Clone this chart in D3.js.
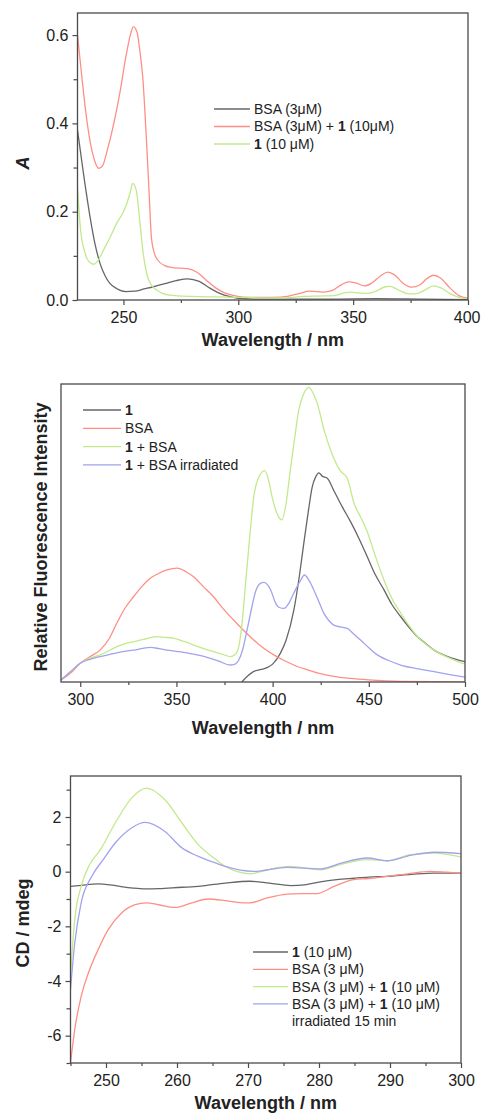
<!DOCTYPE html>
<html>
<head>
<meta charset="utf-8">
<script src="https://cdn.jsdelivr.net/npm/d3@7"></script>
<style>
  body { margin: 0; background: #fff; }
  svg { display: block; font-family: "Liberation Sans", Arial, sans-serif; }
</style>
</head>
<body>
<script>
// ---------- UV-Vis absorption (wavelength nm, A) ----------
const uvBSA = [[230,0.385],[232.5,0.29],[235.4,0.19],[237.5,0.13],[239.8,0.083],[242,0.055],[244,0.038],[247,0.026],
  [251,0.019],[255,0.02],[259,0.025],[263,0.03],[268,0.037],[273,0.044],[278,0.048],[283,0.042],[287.6,0.027],
  [292,0.015],[296,0.008],[300,0.004],[310,0.002],[340,0.002],[360,0.003],[380,0.002],[400,0.001]];
const uvMix = [[230,0.6],[232,0.5],[234,0.41],[236,0.345],[237.5,0.315],[239.3,0.298],[241,0.305],[243,0.34],
  [244.1,0.362],[248.4,0.468],[251.3,0.558],[253,0.6],[254.3,0.619],[256,0.605],[257,0.57],[258.4,0.505],
  [260.1,0.354],[261.2,0.24],[262.2,0.14],[263.5,0.105],[265,0.09],[268,0.078],[271,0.074],[275,0.072],
  [278,0.071],[282,0.063],[286,0.045],[290,0.028],[294,0.016],[299,0.009],[305,0.006],[315,0.006],[322,0.009],
  [327,0.015],[331,0.02],[337,0.018],[341,0.022],[345,0.035],[348,0.041],[351,0.039],[355,0.032],[358,0.038],
  [362,0.055],[365,0.063],[368,0.057],[372,0.037],[375.5,0.029],[379,0.034],[382,0.048],[385,0.056],[388,0.05],
  [392,0.028],[396,0.01],[400,0.004]];
const uv1 = [[230,0.255],[231.2,0.166],[233.3,0.106],[235.4,0.085],[237.2,0.081],[239,0.09],[241.3,0.113],
  [244,0.14],[247.1,0.174],[250,0.2],[251.5,0.219],[253,0.245],[254,0.264],[255.5,0.25],[257.2,0.174],
  [258.5,0.11],[260.1,0.06],[262,0.035],[264.4,0.023],[267,0.015],[270,0.011],[280,0.008],[290,0.007],
  [300,0.006],[310,0.005],[320,0.005],[328,0.008],[335,0.009],[342,0.01],[346,0.016],[349,0.018],[352,0.016],
  [356,0.015],[360,0.02],[364,0.03],[366,0.031],[370,0.022],[374,0.014],[377,0.014],[381,0.022],[385,0.032],
  [388,0.028],[392,0.015],[396,0.006],[400,0.003]];
const uvXTicks = [250, 300, 350, 400];
const uvXMinor = [275, 325, 375];
const uvYTicks = [0, 0.2, 0.4, 0.6];
const uvYMinor = [0.1, 0.3, 0.5];

// ---------- Fluorescence (wavelength nm, relative intensity) ----------
const fl1 = [[384,0],[387,2],[390,3.5],[394,4.2],[397,4.8],[400,6],[404,9.6],[407,14],[411,24],[414,36],
  [416.2,46.5],[418.5,57],[420.6,65.5],[422.5,69],[424,70.2],[426,69],[428.4,68.4],[432,64],[436,59],
  [440.5,53.8],[445,48],[449.2,42],[453,36.5],[457.9,30.9],[462,26],[466.6,21.9],[471,18.3],[475.3,15.2],
  [480,12.7],[483.9,10.7],[490,8.8],[495,7.7],[500,6.8]];
const flBSA = [[290,0.7],[295,3],[300,6.3],[305,8.5],[310.3,10.7],[315,14.5],[319,19.7],[323,24.5],[327.7,28.6],
  [332,32],[336.4,34.8],[341,36.5],[345.1,37.6],[350.3,38.2],[355,37],[358.9,35.3],[364,32],[369.3,28.6],
  [374,24.8],[379.7,20.8],[385,17.3],[390.2,14.1],[395,11.5],[400.6,9.1],[406,7.2],[411,5.7],[417,4.3],
  [423.2,3.1],[431,2],[440.5,1.2],[450,0.7],[466.6,0.2],[500,0]];
const flMix = [[290,0.7],[295,3.5],[300,6.3],[305,8],[310.3,9.1],[315,10.5],[319,11.9],[323,12.8],[327.7,13.5],
  [333,14.3],[339.8,15.2],[344,15],[348.5,14.7],[354,13.6],[358.9,12.4],[364,11.2],[369.3,10.2],[374,9.3],
  [378,8.5],[380.5,9.2],[382.4,11.9],[384,19],[385.8,32],[388,48],[390.2,62.2],[393,69],[395.9,70.9],[398,67.5],
  [399.7,62.2],[402,57],[404.9,54.4],[407,60],[409.2,71.1],[411.5,82],[413.6,91.3],[416,96.5],[418.8,98.9],
  [421,97],[423.2,93.5],[427,84],[431.8,75.1],[435,71],[438.8,68.4],[442.3,60],[446,55],[449.2,50.4],[453,43],
  [457.9,34.2],[462,28],[466.6,23.1],[471,18.8],[475.3,15.2],[480,12.5],[483.9,10.7],[490,8.6],[495,7.2],[500,6]];
const flIrr = [[290,0.7],[295,3.5],[300,6.3],[305,7.6],[310.3,8.5],[315,9.2],[319,9.8],[327.7,10.7],[336.4,11.6],
  [341,11.2],[345.1,10.7],[350,10.3],[355.5,9.8],[360,9.2],[365.9,8.3],[372,7],[378,5.7],[380.5,6],[382.4,7.4],
  [384.5,11],[386.7,17.4],[389,24.5],[391.1,30.3],[393.5,33],[395.5,33.4],[397.5,32.5],[399,30.9],[401.6,26.4],
  [403.5,25],[405.9,24.7],[408.5,26.5],[411,29.8],[414,33.5],[416.6,35.9],[419,34],[421.4,30.9],[424,27],
  [426.6,23.1],[429,20.8],[431.8,19.1],[435,18.5],[438.8,18],[442,16.2],[445.7,14.1],[450,11.5],[454.4,9.1],
  [460,7.3],[466.6,5.7],[475,4.5],[483.9,3.5],[492,2.5],[500,1.6]];
const flXTicks = [300, 350, 400, 450, 500];
const flXMinor = [325, 375, 425, 475];

// ---------- Circular dichroism (wavelength nm, mdeg) ----------
const cd1 = [[245,-0.54],[246.5,-0.5],[248.9,-0.45],[250.5,-0.48],[252,-0.54],[253.8,-0.6],[255.5,-0.63],
  [257.5,-0.62],[260.7,-0.57],[262.5,-0.55],[264.2,-0.5],[266.8,-0.42],[270.3,-0.35],[273,-0.42],[276,-0.51],
  [278,-0.48],[280.2,-0.37],[282.5,-0.29],[284.9,-0.24],[287,-0.2],[289.6,-0.17],[293,-0.1],[296.2,-0.05],[300,-0.05]];
const cdBSA = [[245,-7],[245.6,-5.78],[246.5,-4.56],[247.7,-3.58],[248.9,-2.85],[250.3,-2.12],[252.2,-1.51],
  [254.1,-1.21],[255.7,-1.14],[257.4,-1.21],[259.7,-1.31],[262.1,-1.14],[264.4,-1.0],[266.8,-1.06],[268.5,-1.12],
  [270.3,-1.14],[272.7,-0.96],[275.5,-0.82],[277.5,-0.8],[279.7,-0.8],[282.1,-0.54],[284.9,-0.29],[287,-0.25],
  [289.6,-0.17],[292.5,-0.08],[295.7,0.01],[298,-0.02],[300,-0.05]];
const cdMix = [[245,-3.8],[245.6,-1.75],[246.5,-0.54],[247.7,0.26],[249.2,0.8],[251.3,1.78],[253.6,2.69],
  [255.7,3.06],[258.3,2.63],[260.7,1.78],[263,0.99],[265.4,0.46],[266.8,0.19],[268.5,0],[270.3,-0.08],
  [272.7,0.07],[276,0.19],[280.2,0.07],[283,0.26],[286.8,0.44],[289.6,0.4],[292.9,0.62],[296.2,0.68],[300,0.54]];
const cdIrr = [[245,-4.31],[245.6,-2.61],[246.5,-1.14],[248,-0.17],[249.6,0.44],[251.3,1.05],[253.6,1.6],
  [255.5,1.8],[258.3,1.47],[260.7,0.87],[263,0.56],[265.4,0.32],[266.8,0.19],[270.8,0.01],[275.5,0.16],
  [280.2,0.1],[283,0.3],[286.8,0.5],[289.6,0.4],[292.9,0.6],[296.2,0.71],[300,0.66]];
const cdXTicks = [250, 260, 270, 280, 290, 300];
const cdXMinor = [245, 255, 265, 275, 285, 295];
const cdYTicks = [-6, -4, -2, 0, 2];
const cdYMinor = [-7, -5, -3, -1, 1, 3];

// legend labels: [text, bold]
const uvLegend = [
  [["BSA (3μM)", false]],
  [["BSA (3μM) + ", false], ["1", true], [" (10μM)", false]],
  [["1", true], [" (10 μM)", false]]
];
const flLegend = [
  [["1", true]],
  [["BSA", false]],
  [["1", true], [" + BSA", false]],
  [["1", true], [" + BSA irradiated", false]]
];
const cdLegend = [
  [["1", true], [" (10 μM)", false]],
  [["BSA (3 μM)", false]],
  [["BSA (3 μM) + ", false], ["1", true], [" (10 μM)", false]],
  [["BSA (3 μM) + ", false], ["1", true], [" (10 μM)", false]]
];

const W = 481, H = 1115;
const GRAY = "#666", RED = "#ff8e84", GREEN = "#c2e98c", BLUE = "#a2a2ee";
const INK = "#222", FRAME = "#4a4a4a";

const svg = d3.select("body").append("svg")
    .attr("width", W)
    .attr("height", H);

function drawPanel(p) {
  const x = d3.scaleLinear().domain(p.xDomain).range([p.left, p.right]);
  const y = d3.scaleLinear().domain(p.yDomain).range([p.bottom, p.top]);
  const g = svg.append("g");

  g.append("clipPath").attr("id", p.id)
    .append("rect")
      .attr("x", p.left).attr("y", p.top)
      .attr("width", p.right - p.left).attr("height", p.bottom - p.top);

  const line = d3.line()
      .x(d => x(d[0]))
      .y(d => y(d[1]))
      .curve(d3.curveMonotoneX);

  g.append("g")
      .attr("clip-path", `url(#${p.id})`)
    .selectAll("path")
    .data(p.series)
    .join("path")
      .attr("fill", "none")
      .attr("stroke", d => d.color)
      .attr("stroke-width", 1.3)
      .attr("d", d => line(d.values));

  g.append("rect")
      .attr("x", p.left).attr("y", p.top)
      .attr("width", p.right - p.left).attr("height", p.bottom - p.top)
      .attr("fill", "none")
      .attr("stroke", FRAME)
      .attr("stroke-width", 1.3);

  const styleAxis = a => {
    a.select(".domain").remove();
    a.selectAll("line").attr("stroke", FRAME).attr("stroke-width", 1.2);
    a.selectAll("text").attr("fill", INK).style("font-size", "16px")
      .style("font-family", '"Liberation Sans", Arial, sans-serif');
  };

  const xAxis = g.append("g")
      .attr("transform", `translate(0,${p.bottom})`)
      .call(d3.axisBottom(x).tickValues(p.xTicks).tickSize(5).tickPadding(7).tickSizeOuter(0))
      .call(styleAxis);
  // keep the last tick label inside the picture
  xAxis.selectAll("text").each(function(d) {
    const w = this.getComputedTextLength();
    const over = x(d) + w / 2 - (W - 1);
    if (over > 0) d3.select(this).attr("dx", -over);
  });
  g.append("g")
      .attr("transform", `translate(0,${p.bottom})`)
      .call(d3.axisBottom(x).tickValues(p.xMinor).tickSize(3).tickFormat("").tickSizeOuter(0))
      .call(styleAxis);

  if (p.yTicks) {
    g.append("g")
        .attr("transform", `translate(${p.left},0)`)
        .call(d3.axisLeft(y).tickValues(p.yTicks).tickSize(5).tickPadding(4).tickFormat(p.yFormat).tickSizeOuter(0))
        .call(styleAxis);
    g.append("g")
        .attr("transform", `translate(${p.left},0)`)
        .call(d3.axisLeft(y).tickValues(p.yMinor).tickSize(4).tickFormat("").tickSizeOuter(0))
        .call(styleAxis);
  }

  // axis titles
  g.append("text")
      .attr("x", (p.left + p.right) / 2)
      .attr("y", p.xTitleY)
      .attr("text-anchor", "middle")
      .attr("font-weight", "bold")
      .attr("font-size", 18)
      .attr("fill", INK)
      .text("Wavelength / nm");

  g.append("text")
      .attr("transform", `translate(${p.yTitleX},${p.yTitleY}) rotate(-90)`)
      .attr("text-anchor", "middle")
      .attr("font-weight", "bold")
      .attr("font-size", 18)
      .attr("font-style", p.yTitleItalic ? "italic" : "normal")
      .attr("fill", INK)
      .text(p.yTitle);

  // legend
  const lg = g.append("g")
    .selectAll("g")
    .data(p.legend)
    .join("g")
      .attr("transform", (d, i) => `translate(0,${p.legY + i * p.legStep})`);
  lg.append("line")
      .attr("x1", p.legX1).attr("x2", p.legX2)
      .attr("stroke", (d, i) => p.series[i].color)
      .attr("stroke-width", 1.3);
  lg.append("text")
      .attr("x", p.legX2 + 4)
      .attr("dy", "0.35em")
      .attr("font-size", 14)
      .attr("fill", INK)
    .selectAll("tspan")
    .data(d => d)
    .join("tspan")
      .attr("font-weight", d => d[1] ? "bold" : "normal")
      .text(d => d[0]);

  if (p.legExtra) {
    g.append("text")
        .attr("x", p.legX2 + 4)
        .attr("y", p.legY + p.legend.length * p.legStep)
        .attr("dy", "0.35em")
        .attr("font-size", 14)
        .attr("fill", INK)
        .text(p.legExtra);
  }
}

drawPanel({
  id: "clip-uv",
  left: 77.5, right: 468, top: 13, bottom: 300,
  xDomain: [230, 400], yDomain: [0, 0.65],
  series: [
    { values: uvBSA, color: GRAY },
    { values: uvMix, color: RED },
    { values: uv1, color: GREEN }
  ],
  xTicks: uvXTicks, xMinor: uvXMinor,
  yTicks: uvYTicks, yMinor: uvYMinor, yFormat: d3.format(".1f"),
  xTitleY: 346, yTitle: "A", yTitleItalic: true, yTitleX: 28.5, yTitleY: 163,
  legend: uvLegend, legX1: 214, legX2: 250, legY: 109, legStep: 17.5
});

drawPanel({
  id: "clip-fl",
  left: 61, right: 465, top: 384, bottom: 682,
  xDomain: [290, 500], yDomain: [0, 100],
  series: [
    { values: fl1, color: GRAY },
    { values: flBSA, color: RED },
    { values: flMix, color: GREEN },
    { values: flIrr, color: BLUE }
  ],
  xTicks: flXTicks, xMinor: flXMinor,
  xTitleY: 734, yTitle: "Relative Fluorescence Intensity", yTitleX: 46.5, yTitleY: 537,
  legend: flLegend, legX1: 83, legX2: 121, legY: 410, legStep: 18.3
});

drawPanel({
  id: "clip-cd",
  left: 70.5, right: 461, top: 776, bottom: 1063,
  xDomain: [245, 300], yDomain: [-7, 3.5],
  series: [
    { values: cd1, color: GRAY },
    { values: cdBSA, color: RED },
    { values: cdMix, color: GREEN },
    { values: cdIrr, color: BLUE }
  ],
  xTicks: cdXTicks, xMinor: cdXMinor,
  yTicks: cdYTicks, yMinor: cdYMinor, yFormat: d => String(d),
  xTitleY: 1109, yTitle: "CD / mdeg", yTitleX: 28.5, yTitleY: 923,
  legend: cdLegend, legX1: 253, legX2: 288, legY: 952, legStep: 17.3,
  legExtra: "irradiated 15 min"
});
</script>
</body>
</html>
